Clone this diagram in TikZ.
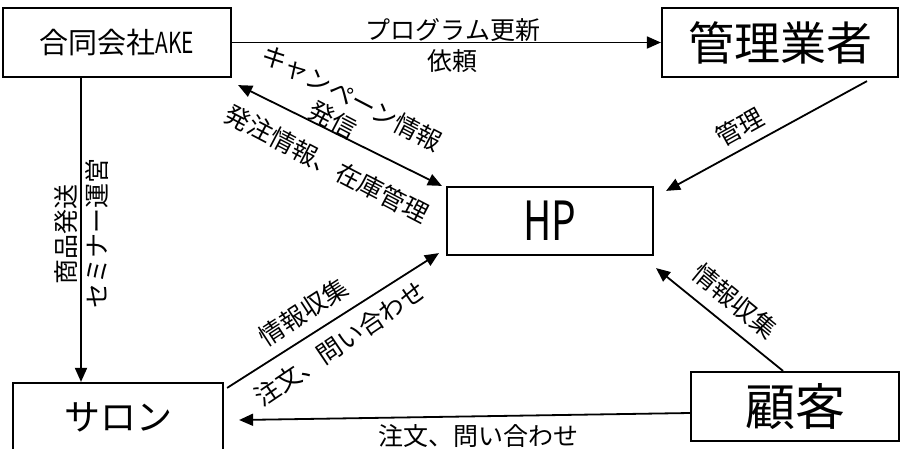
\documentclass[tikz,border=0pt]{standalone}
\usepackage{fontspec}
\setmainfont{Noto Sans CJK JP}
\newfontfamily\condfont[FakeStretch=0.72]{Noto Sans CJK JP}
\usetikzlibrary{arrows.meta}
\tikzset{
  box/.style={draw, line width=2.2pt, inner sep=0pt},
  lbl/.style={font=\fontsize{25}{29}\selectfont, inner sep=0pt},
  arr/.style={line width=1.8pt, -{Triangle[length=14pt,width=12pt]}},
  darr/.style={line width=1.8pt, {Triangle[length=14pt,width=12pt]}-{Triangle[length=14pt,width=12pt]}}
}
\begin{document}
\begin{tikzpicture}[x=1pt,y=-1pt]
\useasboundingbox (0,0) rectangle (904,448);
\clip (0,0) rectangle (904,448);
% boxes
\node[box, minimum width=228pt, minimum height=69pt, font=\fontsize{29}{33}\selectfont] (ake) at (117,42.5) {合同会社{\condfont AKE}};
\node[box, minimum width=236pt, minimum height=69pt, font=\fontsize{46}{50}\selectfont] (kanri) at (780,42.5) {管理業者};
\node[box, minimum width=206pt, minimum height=68pt, font=\fontsize{54}{58}\selectfont\condfont] (hp) at (550,221) {HP};
\node[box, minimum width=210pt, minimum height=69pt, font=\fontsize{36}{40}\selectfont] (salon) at (118,417.5) {サロン};
\node[box, minimum width=208pt, minimum height=69pt, font=\fontsize{50}{54}\selectfont] (kokyaku) at (795,406.5) {顧客};
% connectors
\draw[arr] (ake.east) -- (kanri.west);
\coordinate (v) at ([xshift=-36pt]ake.south);
\draw[arr] (v) -- (v |- salon.north);
\draw[darr] ([shift={(6,7)}]ake.south east) -- ([xshift=-4pt]hp.north west);
\draw[arr] ([shift={(87,3)}]kanri.south) -- ([shift={(12,5)}]hp.north east);
\draw[arr] ([shift={(3,6)}]salon.north east) -- ([shift={(-7,-3)}]hp.south west);
\draw[arr] ([xshift=-12pt]kokyaku.north) -- ([shift={(2,12)}]hp.south east);
\draw[arr] ([yshift=-6.5pt]kokyaku.west) -- ([shift={(15,2.5)}]salon.east);
% labels
\node[lbl] (l1) at (453,30) {プログラム更新};
\node[lbl] (l2) at (452,61) {依頼};
\node[lbl, rotate=-27.6] (l3) at (352,98) {キャンペーン情報};
\node[lbl, rotate=-27.6] (l4) at (333,120) {発信};
\node[lbl, rotate=-27.6] (l5) at (327,164) {発注情報、在庫管理};
\node[lbl, rotate=29] (l6) at (740,127) {管理};
\node[lbl, rotate=33] (l7) at (303,312) {情報収集};
\node[lbl, rotate=34] (l8) at (340,344) {注文、問い合わせ};
\node[lbl, rotate=-39.4] (l9) at (735,301) {情報収集};
\node[lbl] (l10) at (478,436) {注文、問い合わせ};
\node[lbl, rotate=90] (l11) at (66,234) {商品発送};
\node[lbl, rotate=90] (l12) at (97,233) {セミナー運営};
\end{tikzpicture}
\end{document}
